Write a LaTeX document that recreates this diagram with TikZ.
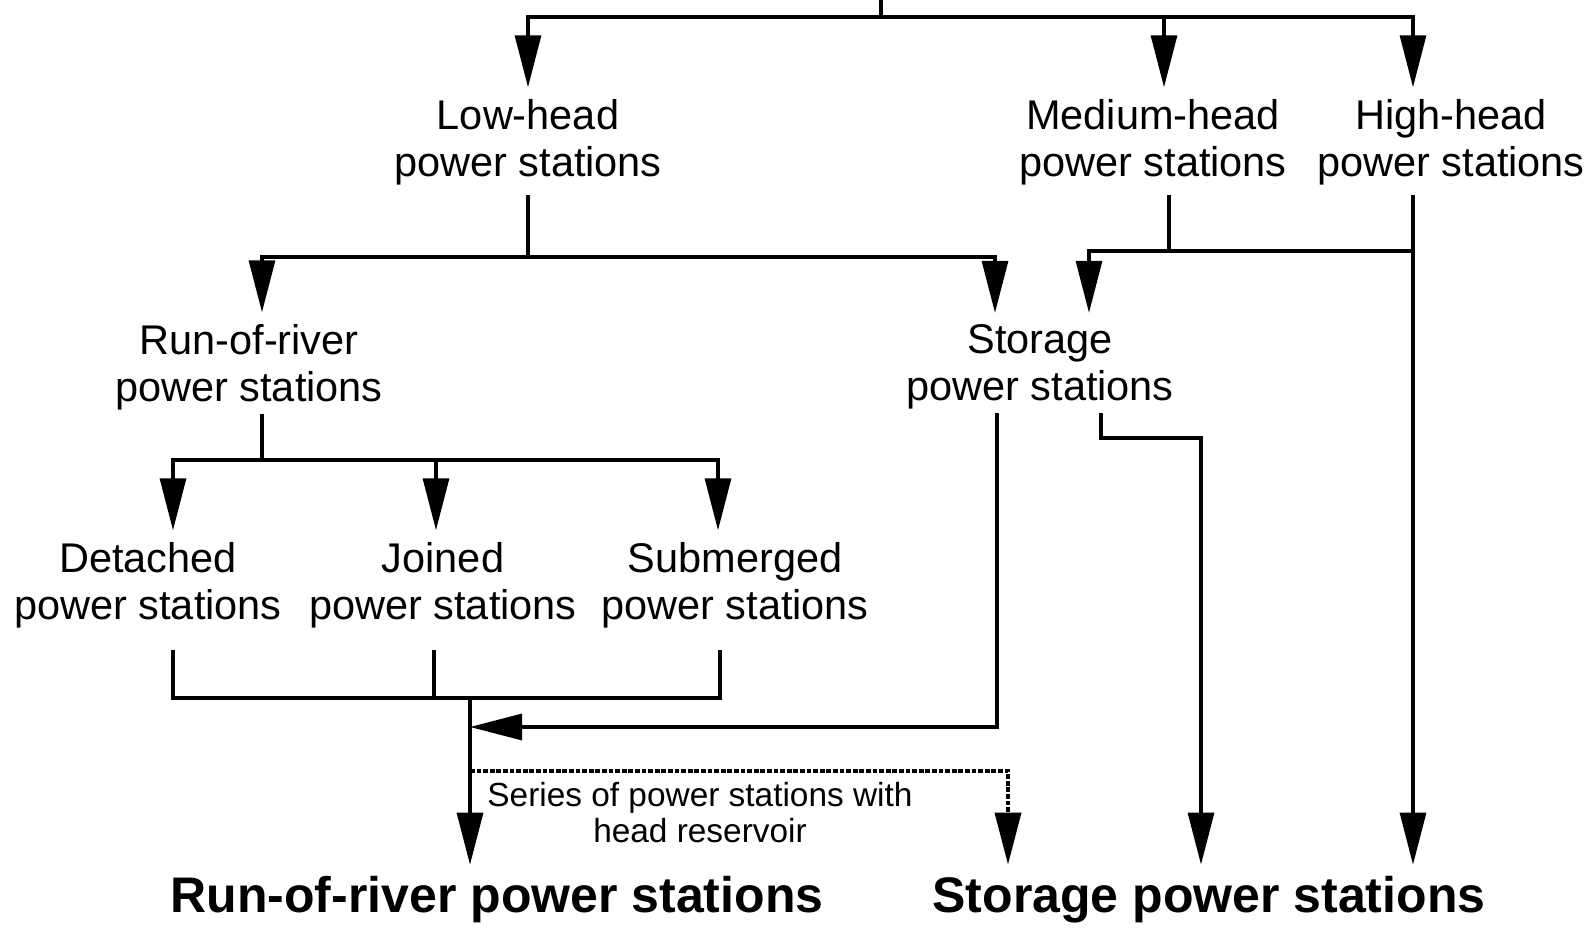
\documentclass[tikz,border=0pt]{standalone}
\usepackage{fontspec}
\setmainfont{Liberation Sans}
\usepackage{tikz}
\usetikzlibrary{arrows.meta}

\tikzset{
  lbl/.style={align=center, inner sep=0pt, outer ysep=6pt, font=\fontsize{20.75}{23.4}\selectfont},
  note/.style={align=center, inner sep=0pt, font=\fontsize{16.7}{18}\selectfont},
  final/.style={inner sep=0pt, outer ysep=6pt, font=\fontsize{25}{28}\selectfont\bfseries},
  arr/.style={-{Triangle[length=26pt,width=13pt]}},
  dotarr/.style={-{Triangle[length=26pt,width=13pt]}, dash pattern=on 2.4pt off 0.9pt, line width=1.9pt}
}

\begin{document}
\begin{tikzpicture}[x=0.5pt, y=-0.5pt, line width=1.6pt]
\useasboundingbox (0,0) rectangle (1596,931);

\node[lbl] (low) at (528,142) {Low-head\\power stations};
\node[lbl] (med) at (1153,142) {Medium-head\\power stations};
\node[lbl] (high) at (1451,142) {High-head\\power stations};
\node[lbl] (ror) at (249,367) {Run-of-river\\power stations};
\node[lbl] (sto) at (1040,367) {Storage\\power stations};
\node[lbl] (det) at (148,585) {Detached\\power stations};
\node[lbl] (join) at (443,585) {Joined\\power stations};
\node[lbl] (sub) at (735,585) {Submerged\\power stations};
\node[note] (series) at (700,813) {Series of power stations with\\head reservoir};
\node[final] (rorfin) at (497,900) {Run-of-river power stations};
\node[final] (stofin) at (1209,900) {Storage power stations};

\coordinate (root) at (881,0);
\coordinate (tbar) at (881,17);
\coordinate (lowj) at (528,257);
\coordinate (medj) at (1169,251);
\coordinate (highj) at (1413,251);
\coordinate (rorj) at (262,460);
\coordinate (cl) at (173,698);
\coordinate (cm) at (434,698);
\coordinate (cr) at (720,698);
\coordinate (col) at (470,698);
\coordinate (stoin) at (470,727);
\coordinate (sbend) at (1201,438);
\coordinate (dl) at (470,771);

% head levels
\draw (root) -- (tbar);
\draw[arr] (tbar) -| (low.north);
\draw[arr] (tbar) -| ([xshift=5.5pt]med.north);
\draw[arr] (tbar) -| ([xshift=-19pt]high.north);

\draw ([yshift=1pt]low.south) -- (lowj);
\draw[arr] (lowj) -| ([xshift=6.5pt]ror.north);
\draw[arr] (lowj) -| ([xshift=-22.5pt]sto.north);

\draw ([xshift=8pt,yshift=1pt]med.south) -- (medj);
\draw[arr] (highj) -| ([xshift=24.5pt]sto.north);
\draw[arr] ([xshift=-19pt,yshift=1pt]high.south) -- ([xshift=102pt]stofin.north);

% run-of-river types
\draw ([xshift=6.5pt,yshift=4pt]ror.south) -- (rorj);
\draw[arr] (rorj) -| ([xshift=12.5pt]det.north);
\draw[arr] (rorj) -| ([xshift=-3.5pt]join.north);
\draw[arr] (rorj) -| ([xshift=-8.5pt]sub.north);

\draw ([xshift=12.5pt,yshift=-5pt]det.south) -- (cl) -- (cr) -- ([xshift=-7.5pt,yshift=-5pt]sub.south);
\draw ([xshift=-4.5pt,yshift=-5pt]join.south) -- (cm);
\draw[arr] (col) -- ([xshift=-13.5pt]rorfin.north);

% storage
\draw[arr] ([xshift=-21.5pt,yshift=4pt]sto.south) |- (stoin);
\draw[arr] ([xshift=30.5pt,yshift=4pt]sto.south) |- (sbend) -- ([xshift=-4pt]stofin.north);
\draw[dotarr] (dl) -| ([xshift=-100.5pt]stofin.north);
\end{tikzpicture}
\end{document}
